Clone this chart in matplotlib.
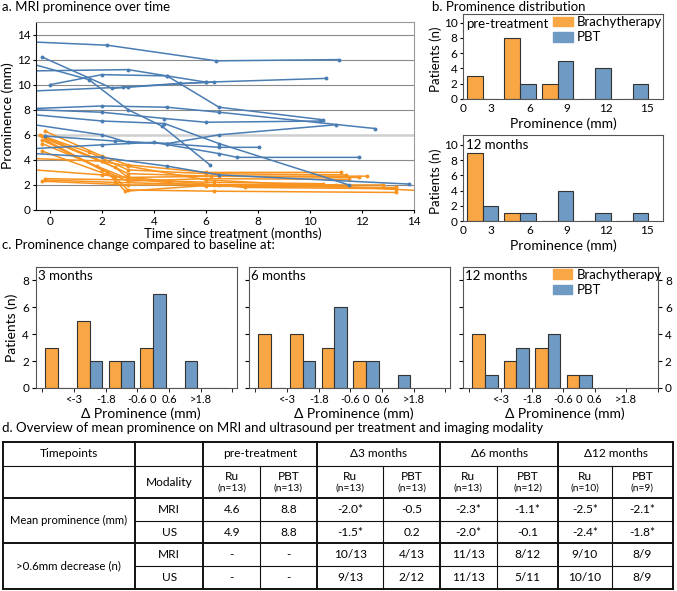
import matplotlib
matplotlib.use("Agg")
import matplotlib.pyplot as plt
from matplotlib.lines import Line2D
from matplotlib.patches import Patch

plt.rcParams['font.family'] = ['Lato', 'DejaVu Sans']

# ---- panel a: MRI prominence per patient (months, mm) ----
pbt_t = [
    [-0.6, 2.2, 6.4, 11.1],
    [-0.3, 2.4, 3.0, 6.0],
    [-0.6, 1.5, 3.0, 4.3, 6.15],
    [-0.6, 3.0, 4.5, 6.5, 10.5],
    [0.0, 2.0, 4.5, 6.0, 10.6],
    [-0.6, 2.8, 5.0, 6.3],
    [-0.6, 2.0, 4.5, 6.5, 12.5],
    [-0.6, 2.0, 4.4, 6.0, 10.4],
    [-0.6, 2.0, 4.4, 6.5, 11.5],
    [-0.6, 2.0, 3.0, 4.5, 6.5, 11.0],
    [-0.2, 2.5, 4.5, 6.5, 8.05],
    [-0.6, 2.0, 4.0, 6.5, 7.2, 11.9],
    [-0.6, 2.0, 4.5, 6.5, 13.8],
]
pbt_v = [
    [13.4, 13.15, 11.9, 12.0],
    [12.2, 9.7, 9.8, 10.2],
    [11.6, 10.4, 8.0, 6.7, 3.6],
    [11.1, 11.2, 10.7, 8.2, 7.2],
    [10.0, 10.8, 10.7, 10.2, 10.5],
    [9.5, 9.8, 10.1, 10.2],
    [8.1, 8.3, 8.2, 7.8, 6.5],
    [8.0, 7.8, 7.3, 7.0, 7.1],
    [7.6, 7.1, 6.9, 5.3, 2.0],
    [6.8, 6.0, 5.4, 5.3, 6.0, 6.8],
    [5.9, 5.5, 5.3, 5.0, 5.0],
    [4.9, 5.2, 5.4, 4.5, 4.2, 4.2],
    [4.5, 4.2, 3.5, 2.8, 2.07],
]
bra_t = [
    [-0.2, 2.0, 3.0, 6.0, 11.2],
    [-0.4, 1.5, 3.0, 6.0, 11.4],
    [-0.3, 2.0, 3.0, 6.2, 11.9],
    [-0.2, 2.5, 3.0, 6.5, 12.2],
    [-0.3, 2.0, 3.0, 6.0, 11.5],
    [-0.1, 2.2, 2.9, 6.3, 12.8],
    [-0.3, 1.8, 3.0, 6.0, 13.3],
    [-0.3, 2.5, 3.0, 6.3, 13.3],
    [-0.6, 2.0, 3.0, 6.0, 14.2],
    [-0.6, 2.0, 3.0, 7.5, 13.3],
    [-0.2, 3.0, 6.3, 10.5],
    [-0.2, 2.5, 6.5, 11.0],
    [-0.3, 3.0, 6.0, 10.8],
]
bra_v = [
    [6.3, 4.3, 3.6, 3.0, 3.0],
    [6.0, 4.6, 3.2, 2.9, 2.8],
    [5.9, 3.9, 2.9, 2.7, 2.6],
    [5.7, 3.4, 2.6, 2.7, 2.7],
    [5.6, 3.2, 2.3, 2.5, 2.45],
    [5.5, 3.0, 1.5, 2.0, 2.0],
    [5.3, 3.5, 2.5, 1.9, 1.8],
    [4.7, 2.6, 1.6, 1.5, 1.4],
    [4.1, 3.9, 3.5, 2.4, 1.55],
    [3.2, 2.8, 2.6, 1.8, 1.7],
    [2.5, 2.4, 2.2, 2.1],
    [2.4, 2.2, 2.0, 2.0],
    [2.3, 2.0, 2.0, 1.9],
]

# ---- panel b: prominence distribution (patients per bin) ----
dist_ticks = ['0', '3', '6', '9', '12', '15']
dist_tick_pos = [-0.525, 0.21, 1.26, 2.25, 3.28, 4.38]
pre_bra = [3, 8, 2, 0, 0]
pre_pbt = [0, 2, 5, 4, 2]
m12_bra = [9, 1, 0, 0, 0]
m12_pbt = [2, 1, 4, 1, 1]

# ---- panel c: change vs baseline ----
chg_ticks = ['<-3', '-1.8', '-0.6', '0', '0.6', '>1.8']
chg_tick_pos = [1, 2, 3, 3.5, 4, 5]
chg_titles = ['3 months', '6 months', '12 months']
chg_bra = [[3, 5, 2, 3, 0, 0], [4, 4, 3, 2, 0, 0], [4, 2, 3, 1, 0, 0]]
chg_pbt = [[0, 2, 2, 7, 2, 0], [0, 2, 6, 2, 1, 0], [1, 3, 4, 1, 0, 0]]

# ---- panel d: table ----
tp_headers = ['pre-treatment', 'Δ3 months', 'Δ6 months', 'Δ12 months']
arm_names = ['Ru', 'PBT', 'Ru', 'PBT', 'Ru', 'PBT', 'Ru', 'PBT']
arm_n = ['(n=13)', '(n=13)', '(n=13)', '(n=13)', '(n=13)', '(n=12)', '(n=10)', '(n=9)']
mean_mri = ['4.6', '8.8', '-2.0*', '-0.5', '-2.3*', '-1.1*', '-2.5*', '-2.1*']
mean_us = ['4.9', '8.8', '-1.5*', '0.2', '-2.0*', '-0.1', '-2.4*', '-1.8*']
dec_mri = ['-', '-', '10/13', '4/13', '11/13', '8/12', '9/10', '8/9']
dec_us = ['-', '-', '9/13', '2/12', '11/13', '5/11', '10/10', '8/9']

ORANGE = '#f7931e'
BLUE = '#4a7db3'
ORANGE_BAR = '#f9a644'
BLUE_BAR = '#6f9ac4'
EDGE = '#333333'

W, H = 677, 591
fig = plt.figure(figsize=(W / 100, H / 100), dpi=100)


def box(l, t, r, b):
    return [l / W, 1 - b / H, (r - l) / W, (b - t) / H]


def ftext(x, y, s, **kw):
    kw.setdefault('va', 'center')
    fig.text(x / W, 1 - y / H, s, **kw)


def fline(x0, y0, x1, y1, lw=1.0):
    fig.add_artist(Line2D([x0 / W, x1 / W], [1 - y0 / H, 1 - y1 / H],
                          transform=fig.transFigure, color='#111111',
                          lw=lw, solid_capstyle='projecting'))


TFS = 9.5
LFS = 10
KFS = 8.5

# ================= panel a =================
ax = fig.add_axes(box(36, 22, 414, 210))
for y in range(2, 15, 2):
    if y == 6:
        ax.axhline(y, color='#cfcfcf', lw=1.8, zorder=0)
    else:
        ax.axhline(y, color='#8a8a8a', lw=0.8, zorder=0)
for t, v in zip(pbt_t, pbt_v):
    ax.plot(t, v, color=BLUE, lw=1.1, marker='o', ms=1.8, zorder=2)
for t, v in zip(bra_t, bra_v):
    ax.plot(t, v, color=ORANGE, lw=1.1, marker='o', ms=1.8, zorder=1)
ax.set_xlim(-0.54, 14)
ax.set_ylim(0, 15)
ax.set_xticks(range(0, 15, 2))
ax.set_yticks(range(0, 15, 2))
ax.tick_params(labelsize=KFS, length=2, pad=2)
for s in ['top', 'right']:
    ax.spines[s].set_color('#9a9a9a')
    ax.spines[s].set_linewidth(0.8)
for s in ['left', 'bottom']:
    ax.spines[s].set_color('#111111')
ftext(2, 7, 'a. MRI prominence over time', fontsize=TFS)
ftext(233, 234, 'Time since treatment (months)', fontsize=TFS, ha='center')
ftext(8, 116, 'Prominence (mm)', fontsize=LFS, ha='center', rotation=90)

# ================= panel b =================
grp = range(5)
for rect, bra, pbt, lab, xl_y in [((463, 14, 663, 99), pre_bra, pre_pbt, 'pre-treatment', 124),
                                   ((463, 135, 663, 221), m12_bra, m12_pbt, '12 months', 246)]:
    bx = fig.add_axes(box(*rect))
    bx.bar([g - 0.21 for g in grp], bra, 0.42, color=ORANGE_BAR, edgecolor=EDGE, lw=0.8)
    bx.bar([g + 0.21 for g in grp], pbt, 0.42, color=BLUE_BAR, edgecolor=EDGE, lw=0.8)
    bx.set_xlim(-0.525, 4.81)
    top = 11.13 if lab == 'pre-treatment' else 11.3
    bx.set_ylim(0, top)
    bx.set_yticks(range(0, 11, 2))
    bx.set_xticks(dist_tick_pos)
    bx.set_xticklabels(dist_ticks)
    bx.tick_params(axis='x', length=0, labelsize=KFS, pad=3)
    bx.tick_params(axis='y', length=2, labelsize=KFS, pad=2)
    for s in bx.spines.values():
        s.set_color('#555555')
        s.set_linewidth(0.8)
    bx.text(0.015, 0.955, lab, transform=bx.transAxes, fontsize=TFS, va='top', ha='left')
    ftext(563, xl_y, 'Prominence (mm)', fontsize=LFS, ha='center')
    ftext(436, (rect[1] + rect[3]) / 2 + 3, 'Patients (n)', fontsize=9.5, ha='center', rotation=90)
    if lab == 'pre-treatment':
        bx.legend(handles=[Patch(color=ORANGE_BAR, label='Brachytherapy'),
                           Patch(color=BLUE_BAR, label='PBT')],
                  loc='upper left', bbox_to_anchor=(0.45, 0.975), frameon=False,
                  fontsize=TFS, borderpad=0, borderaxespad=0, handlelength=1.5,
                  handleheight=0.75, handletextpad=0.3, labelspacing=0.25)
ftext(432, 7, 'b. Prominence distribution', fontsize=TFS)

# ================= panel c =================
ftext(2, 245, 'c. Prominence change compared to baseline at:', fontsize=TFS)
crects = [(36, 267, 237, 388), (249, 267, 450, 388), (463, 267, 658, 388)]
for i, rect in enumerate(crects):
    cx = fig.add_axes(box(*rect))
    g6 = range(6)
    cx.bar([g + 0.3 for g in g6], chg_bra[i], 0.4, color=ORANGE_BAR, edgecolor=EDGE, lw=0.8)
    cx.bar([g + 0.7 for g in g6], chg_pbt[i], 0.4, color=BLUE_BAR, edgecolor=EDGE, lw=0.8)
    right = 6.15 if i < 2 else 6.01
    cx.set_xlim(-0.2, right)
    cx.set_ylim(0, 9)
    cx.set_yticks(range(0, 9, 2))
    cx.xaxis.remove_overlapping_locs = False
    cx.set_xticks(chg_tick_pos)
    cx.set_xticklabels(chg_ticks)
    cx.set_xticks(range(7), minor=True)
    cx.tick_params(axis='x', which='major', length=0, labelsize=8, pad=4)
    cx.tick_params(axis='x', which='minor', length=3, direction='out')
    cx.tick_params(axis='y', length=3, labelsize=KFS, pad=2)
    if i > 0:
        cx.tick_params(axis='y', labelleft=False)
    if i == 2:
        cx.tick_params(axis='y', right=True, labelright=True)
    for s in cx.spines.values():
        s.set_color('#555555')
        s.set_linewidth(0.8)
    cx.text(0.012, 0.975, chg_titles[i], transform=cx.transAxes, fontsize=TFS, va='top', ha='left')
    ftext((rect[0] + rect[2]) / 2 + 4, 414, 'Δ Prominence (mm)', fontsize=LFS, ha='center')
    if i == 2:
        cx.legend(handles=[Patch(color=ORANGE_BAR, label='Brachytherapy'),
                           Patch(color=BLUE_BAR, label='PBT')],
                  loc='upper left', bbox_to_anchor=(0.46, 0.985), frameon=False,
                  fontsize=TFS, borderpad=0, borderaxespad=0, handlelength=1.5,
                  handleheight=0.75, handletextpad=0.3, labelspacing=0.25)
ftext(12, 328, 'Patients (n)', fontsize=LFS, ha='center', rotation=90)

# ================= panel d: table =================
ftext(2, 428, 'd. Overview of mean prominence on MRI and ultrasound per treatment and imaging modality',
      fontsize=TFS)
cols = [2.7, 135, 203.3, 260, 317, 383.3, 440, 496.7, 558.3, 611.7, 673]
rows = [441.7, 465.7, 498.3, 520.7, 543.3, 565.7, 589]
thick, thin = 1.4, 0.8

# horizontal rules
fline(cols[0], rows[0], cols[-1], rows[0], thick)
fline(cols[0], rows[1], cols[-1], rows[1], thin)
fline(cols[0], rows[2], cols[-1], rows[2], thick)
fline(cols[1], rows[3], cols[-1], rows[3], thin)
fline(cols[0], rows[4], cols[-1], rows[4], thick)
fline(cols[1], rows[5], cols[-1], rows[5], thin)
fline(cols[0], rows[6], cols[-1], rows[6], thick)
# vertical rules
for k in [0, 1, 2, 4, 6, 8, 10]:
    fline(cols[k], rows[0], cols[k], rows[6], thick)
for k in [3, 5, 7, 9]:
    fline(cols[k], rows[1], cols[k], rows[6], thin)

TB = 8.6
rc = [(rows[i] + rows[i + 1]) / 2 for i in range(6)]
cc = [(cols[i] + cols[i + 1]) / 2 for i in range(10)]
ftext(cc[0], rc[0], 'Timepoints', fontsize=TB, ha='center')
ftext(cc[1], rc[1], 'Modality', fontsize=TB, ha='center')
for j, hdr in enumerate(tp_headers):
    ftext((cols[2 + 2 * j] + cols[4 + 2 * j]) / 2, rc[0], hdr, fontsize=TB, ha='center')
for j in range(8):
    ftext(cc[2 + j], rc[1] - 5, arm_names[j], fontsize=TB, ha='center')
    ftext(cc[2 + j], rc[1] + 6, arm_n[j], fontsize=7.3, ha='center')
ftext(cc[0], rows[3], 'Mean prominence (mm)', fontsize=8.1, ha='center')
ftext(cc[0], rows[5], '>0.6mm decrease (n)', fontsize=8.3, ha='center')
for r, lab, vals in [(2, 'MRI', mean_mri), (3, 'US', mean_us),
                     (4, 'MRI', dec_mri), (5, 'US', dec_us)]:
    ftext(cc[1], rc[r], lab, fontsize=TB, ha='center')
    for j, v in enumerate(vals):
        ftext(cc[2 + j], rc[r], v, fontsize=TB, ha='center')

fig.savefig('out.png', dpi=100)
